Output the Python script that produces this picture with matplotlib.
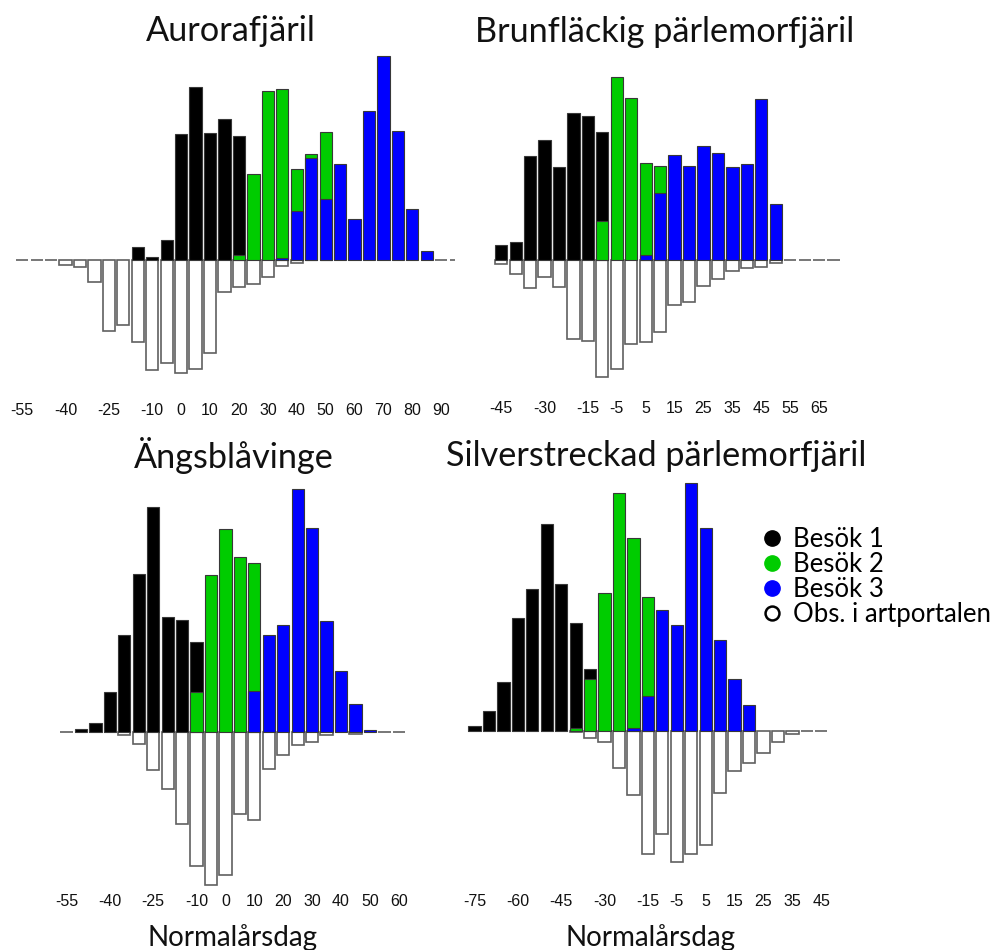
import numpy as np
import matplotlib
matplotlib.use("Agg")
import matplotlib.pyplot as plt
from matplotlib.lines import Line2D

# 5-day bins, relative frequencies
# panel 1: Aurorafjäril
aur_days = np.arange(-55, 100, 5)
aur_obs = [0, 0, 0, 5, 7, 22, 71, 65, 82, 110, 103, 113, 109, 93, 32, 27, 24, 17, 6, 3,
           0, 0, 0, 0, 0, 0, 0, 0, 0, 0, 0]
aur_b1 = [13, 3, 20, 126, 173, 127, 141, 124]          # from -15
aur_b2 = [5, 86, 169, 171, 91, 106, 128]               # from 20
aur_b3 = [2, 49, 102, 61, 96, 41, 149, 204, 129, 51, 9]  # from 35
aur_start = [-15, 20, 35]
aur_ticks = [-55, -40, -25, -10, 0, 10, 20, 30, 40, 50, 60, 70, 80, 90]

# panel 2: Brunfläckig pärlemorfjäril
bru_days = np.arange(-45, 75, 5)
bru_obs = [4, 14, 28, 17, 27, 79, 81, 117, 109, 84, 82, 72, 45, 42, 26, 19, 11, 8, 7, 3,
           0, 0, 0, 0]
bru_b1 = [15, 18, 104, 120, 93, 147, 144, 128]          # from -45
bru_b2 = [39, 183, 162, 97, 94]                         # from -10
bru_b3 = [5, 67, 105, 94, 114, 107, 93, 96, 161, 56]    # from 5
bru_start = [-45, -10, 5]
bru_ticks = [-45, -30, -15, -5, 5, 15, 25, 35, 45, 55, 65]

# panel 3: Ängsblåvinge
ang_days = np.arange(-55, 65, 5)
ang_obs = [0, 0, 0, 0, 3, 12, 38, 57, 92, 134, 153, 143, 82, 88, 37, 23, 13, 10, 3, 0,
           2, 0, 0, 0]
ang_b1 = [3, 9, 40, 97, 158, 225, 115, 112, 90]         # from -50
ang_b2 = [40, 157, 203, 175, 169]                       # from -10
ang_b3 = [41, 97, 107, 243, 204, 111, 61, 28, 2]        # from 10
ang_start = [-50, -10, 10]
ang_ticks = [-55, -40, -25, -10, 0, 10, 20, 30, 40, 50, 60]

# panel 4: Silverstreckad pärlemorfjäril
sil_days = np.arange(-75, 50, 5)
sil_obs = [0, 0, 0, 0, 0, 0, 0, 1, 7, 11, 37, 64, 123, 103, 131, 123, 114, 62, 40, 32,
           22, 11, 3, 0, 0]
sil_b1 = [5, 20, 49, 113, 142, 207, 147, 108, 62]       # from -75
sil_b2 = [3, 52, 138, 238, 193, 134]                    # from -40
sil_b3 = [3, 35, 121, 106, 248, 203, 91, 52, 26]        # from -20
sil_start = [-75, -40, -20]
sil_ticks = [-75, -60, -45, -30, -15, -5, 5, 15, 25, 35, 45]

titles = ["Aurorafjäril", "Brunfläckig pärlemorfjäril",
          "Ängsblåvinge", "Silverstreckad pärlemorfjäril"]
labels = ["Besök 1", "Besök 2", "Besök 3", "Obs. i artportalen"]
colors = ["#000000", "#00cc00", "#0000ff"]

W, H = 1003, 950
fig = plt.figure(figsize=(W / 100, H / 100), dpi=100)

title_font = ["Lato", "DejaVu Sans"]
tick_font = ["Liberation Sans", "DejaVu Sans"]
k = 2.89  # px per day

# layout in pixels: (left, right, top, bottom, baseline, px of first bin, label y)
layout = [
    (10, 455, 45, 390, 260, 22.2, 409),
    (490, 845, 45, 390, 260, 501.2, 407),
    (55, 410, 475, 888, 731.7, 66.5, 900),
    (460, 840, 475, 888, 731, 474.5, 900),
]
panels = [
    (aur_days, aur_obs, [aur_b1, aur_b2, aur_b3], aur_start, aur_ticks),
    (bru_days, bru_obs, [bru_b1, bru_b2, bru_b3], bru_start, bru_ticks),
    (ang_days, ang_obs, [ang_b1, ang_b2, ang_b3], ang_start, ang_ticks),
    (sil_days, sil_obs, [sil_b1, sil_b2, sil_b3], sil_start, sil_ticks),
]
title_pos = [(231, 31), (665, 32), (234, 456), (656, 456)]

for (pl, pr, pt, pb, yb, p0, ly), (days, obs, visits, starts, ticks), t, tp in zip(
        layout, panels, titles, title_pos):
    ax = fig.add_axes([pl / W, 1 - pb / H, (pr - pl) / W, (pb - pt) / H])
    d0 = days[0]
    ax.set_xlim(d0 + (pl - p0) / k, d0 + (pr - p0) / k)
    ax.set_ylim(-(pb - yb), yb - pt)
    bw = 4.25
    ax.bar(days, -np.array(obs), width=bw, color="white", edgecolor="#606060",
           linewidth=1.2, zorder=1)
    for i, (vals, s) in enumerate(zip(visits, starts)):
        x = s + 5 * np.arange(len(vals))
        ax.bar(x, vals, width=bw, color=colors[i], edgecolor="#383838",
               linewidth=0.8, zorder=2 + i)
    ax.set_xticks(ticks)
    ax.set_xticklabels([str(v) for v in ticks], family=tick_font, fontsize=11.5,
                       color="#111111")
    ax.tick_params(axis="x", length=0, pad=(ly - pb - 5.8) / 1.389)
    ax.set_yticks([])
    for sp in ax.spines.values():
        sp.set_visible(False)
    ax.patch.set_alpha(0)
    fig.text(tp[0] / W, 1 - tp[1] / H, t, family=title_font, fontsize=24.7,
             ha="center", va="center", color="#111111")

for x in [233, 650]:
    fig.text(x / W, 1 - 938 / H, "Normalårsdag", family=title_font, fontsize=20,
             ha="center", va="center", color="#111111")

handles = [Line2D([], [], ls="", marker="o", markersize=11, markerfacecolor=c,
                  markeredgecolor=c) for c in colors]
handles.append(Line2D([], [], ls="", marker="o", markersize=10, markerfacecolor="white",
                      markeredgecolor="black", markeredgewidth=1.8))
fig.legend(handles, labels, loc="upper left", bbox_to_anchor=(749 / W, 1 - 514 / H),
           frameon=False, prop={"family": title_font, "size": 18.5},
           handlelength=0.8, handletextpad=0.4, labelspacing=0.0, borderpad=0)

fig.savefig("out.png", dpi=100)
